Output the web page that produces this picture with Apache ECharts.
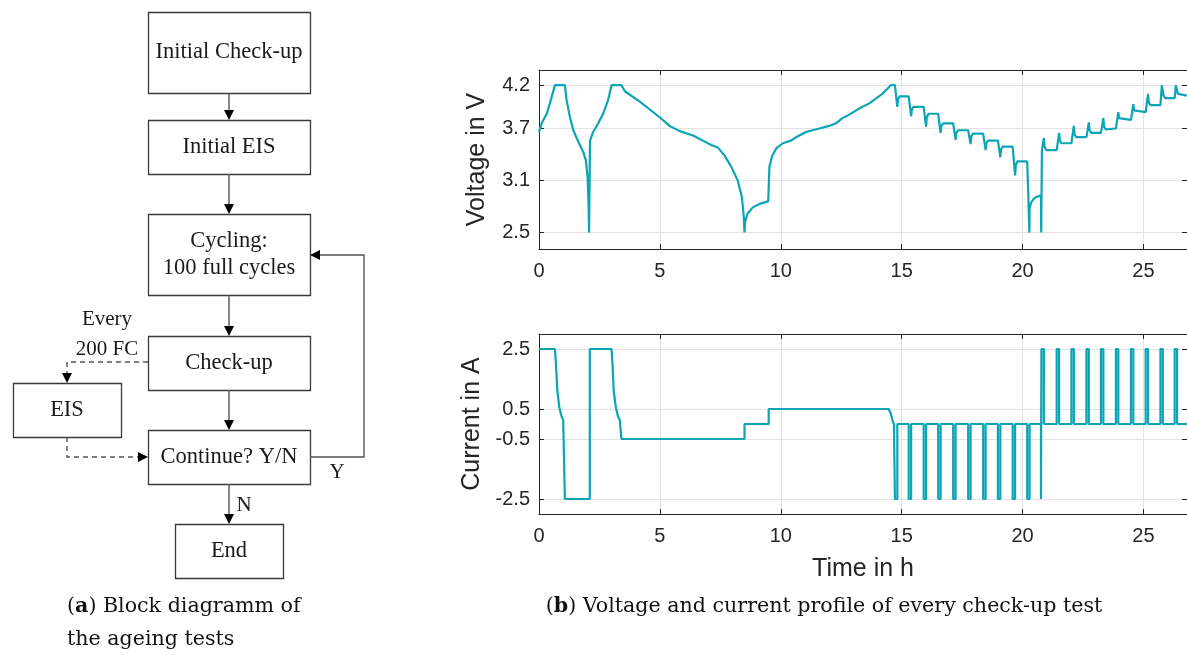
<!DOCTYPE html>
<html>
<head>
<meta charset="utf-8">
<script src="https://cdn.jsdelivr.net/npm/echarts@6/dist/echarts.min.js"></script>
<style>
html,body{margin:0;padding:0;background:#fff;overflow:hidden;}
#chart{width:1187px;height:655px;}
</style>
</head>
<body>
<div id="chart"></div>
<script>
// ---------------- data ----------------
const timeTicks = [0, 5, 10, 15, 20, 25];
const voltTicks = [2.5, 3.1, 3.7, 4.2];
const currTicks = [-2.5, -0.5, 0.5, 2.5];

const voltTime = [
  0, 0.11, 0.32, 0.45, 0.66, 1.07, 1.14, 1.28, 1.42, 1.62, 1.83, 1.94, 2.01, 2.05, 2.07, 2.10,
  2.11, 2.24, 2.45, 2.65, 2.86, 3.00, 3.41, 3.55, 4.17, 4.99, 5.40, 5.82, 6.37, 6.78, 7.12, 7.40,
  7.67, 7.95, 8.22, 8.39, 8.47, 8.50, 8.52, 8.63, 8.84, 9.12, 9.48, 9.53, 9.64, 9.81, 10.08, 10.42,
  10.63, 11.04, 11.59, 12.00, 12.28, 12.55, 12.83, 13.24, 13.66, 14.20, 14.55, 14.72,
  14.82, 14.85, 14.92, 15.29,
  15.39, 15.42, 15.49, 15.91,
  16.01, 16.04, 16.11, 16.51,
  16.61, 16.64, 16.71, 17.13,
  17.23, 17.26, 17.33, 17.75,
  17.85, 17.88, 17.95, 18.37,
  18.47, 18.50, 18.57, 18.98,
  19.08, 19.11, 19.18, 19.59,
  19.69, 19.72, 19.79, 20.19,
  20.23, 20.28, 20.29, 20.36, 20.50, 20.76, 20.77, 20.78, 20.80, 20.88, 20.91, 20.98, 21.41,
  21.51, 21.54, 21.61, 22.02,
  22.12, 22.15, 22.22, 22.64,
  22.74, 22.77, 22.84, 23.24,
  23.34, 23.37, 23.44, 23.86,
  23.96, 23.99, 24.06, 24.48,
  24.58, 24.61, 24.68, 25.09,
  25.19, 25.22, 25.29, 25.70,
  25.76, 25.80, 25.83, 25.90, 26.29,
  26.34, 26.39, 26.42, 26.49, 26.80
];
const voltValue = [
  3.66, 3.76, 3.87, 3.99, 4.20, 4.20, 4.03, 3.83, 3.68, 3.55, 3.43, 3.33, 3.14, 2.83, 2.50, 2.50,
  3.56, 3.66, 3.76, 3.87, 4.03, 4.20, 4.20, 4.13, 4.01, 3.83, 3.73, 3.67, 3.62, 3.56, 3.51, 3.48,
  3.39, 3.26, 3.10, 2.91, 2.68, 2.50, 2.62, 2.72, 2.79, 2.83, 2.86, 3.26, 3.38, 3.47, 3.53, 3.56,
  3.60, 3.66, 3.70, 3.73, 3.76, 3.82, 3.86, 3.93, 3.99, 4.10, 4.20, 4.20,
  3.95, 4.04, 4.07, 4.07,
  3.84, 3.92, 3.95, 3.95,
  3.72, 3.83, 3.87, 3.87,
  3.65, 3.73, 3.76, 3.76,
  3.57, 3.65, 3.68, 3.68,
  3.52, 3.61, 3.64, 3.64,
  3.45, 3.53, 3.56, 3.56,
  3.37, 3.46, 3.49, 3.49,
  3.16, 3.28, 3.32, 3.32,
  3.00, 2.50, 2.78, 2.85, 2.90, 2.93, 2.50, 2.50, 3.45, 3.59, 3.49, 3.45, 3.45,
  3.65, 3.56, 3.53, 3.53,
  3.73, 3.63, 3.60, 3.60,
  3.77, 3.68, 3.65, 3.65,
  3.82, 3.72, 3.69, 3.70,
  3.89, 3.82, 3.80, 3.80,
  3.98, 3.91, 3.89, 3.89,
  4.10, 4.00, 3.97, 3.97,
  4.20, 4.20, 4.08, 4.05, 4.05,
  4.20, 4.20, 4.10, 4.08, 4.08
];

const currTime = [
  0, 0.66, 0.70, 0.76, 0.84, 0.94, 1.00, 1.07, 1.07, 2.10, 2.10, 3.00, 3.04, 3.09, 3.18, 3.27, 3.34, 3.41, 3.41,
  8.50, 8.50, 9.50, 9.50, 14.46, 14.55, 14.62, 14.68,
  14.72, 14.72, 14.82, 14.82,
  15.29, 15.29, 15.39, 15.39,
  15.91, 15.91, 16.01, 16.01,
  16.51, 16.51, 16.61, 16.61,
  17.13, 17.13, 17.23, 17.23,
  17.75, 17.75, 17.85, 17.85,
  18.37, 18.37, 18.47, 18.47,
  18.98, 18.98, 19.08, 19.08,
  19.59, 19.59, 19.69, 19.69,
  20.19, 20.19, 20.29, 20.29,
  20.76, 20.76, 20.78, 20.78, 20.88, 20.88,
  21.41, 21.41, 21.51, 21.51,
  22.02, 22.02, 22.12, 22.12,
  22.64, 22.64, 22.74, 22.74,
  23.24, 23.24, 23.34, 23.34,
  23.86, 23.86, 23.96, 23.96,
  24.48, 24.48, 24.58, 24.58,
  25.09, 25.09, 25.19, 25.19,
  25.70, 25.70, 25.80, 25.80,
  26.29, 26.29, 26.39, 26.39,
  26.80
];
const currValue = [
  2.5, 2.5, 2.0, 1.1, 0.55, 0.24, 0.13, 0.10, -2.5, -2.5, 2.5, 2.5, 2.0, 1.1, 0.55, 0.24, 0.13, 0.10, -0.5,
  -0.5, 0, 0, 0.5, 0.5, 0.35, 0.12, 0,
  0, -2.5, -2.5, 0,
  0, -2.5, -2.5, 0,
  0, -2.5, -2.5, 0,
  0, -2.5, -2.5, 0,
  0, -2.5, -2.5, 0,
  0, -2.5, -2.5, 0,
  0, -2.5, -2.5, 0,
  0, -2.5, -2.5, 0,
  0, -2.5, -2.5, 0,
  0, -2.5, -2.5, 0,
  0, -2.5, -2.5, 2.5, 2.5, 0,
  0, 2.5, 2.5, 0,
  0, 2.5, 2.5, 0,
  0, 2.5, 2.5, 0,
  0, 2.5, 2.5, 0,
  0, 2.5, 2.5, 0,
  0, 2.5, 2.5, 0,
  0, 2.5, 2.5, 0,
  0, 2.5, 2.5, 0,
  0, 2.5, 2.5, 0,
  0
];

const flowLabels = ['Initial Check-up', 'Initial EIS', 'Cycling:\n100 full cycles', 'Check-up', 'Continue? Y/N', 'EIS', 'End'];
const flowNotes = ['Every', '200 FC', 'Y', 'N'];
const captionA = ['(a) Block diagramm of', 'the ageing tests'];
const captionB = '(b) Voltage and current profile of every check-up test';

// ---------------- styles / layout ----------------
const LINE = '#0ba5b5';
const AX = '#262626';
const GRIDC = '#e3e3e3';
const SANS = '"Liberation Sans", Arial, Helvetica, sans-serif';
const SERIF = '"Liberation Serif", "Times New Roman", serif';
const CAPSERIF = '"DejaVu Serif", "Liberation Serif", serif';

const zip = (a, b) => a.map((v, i) => [v, b[i]]);

function xAx(gridIndex, pos, showLabel, name) {
  return {
    type: 'value', gridIndex, position: pos, min: 0, max: 26.8,
    axisLine: { show: true, onZero: false, lineStyle: { color: AX, width: 1 } },
    axisTick: { show: true, inside: true, length: 5, customValues: timeTicks, lineStyle: { color: AX } },
    axisLabel: { show: showLabel, customValues: timeTicks, color: AX, fontFamily: SANS, fontSize: 20, margin: 12 },
    splitLine: { show: pos === 'bottom', lineStyle: { color: GRIDC, width: 1 } },
    name: name || '', nameLocation: 'middle', nameGap: 43,
    nameTextStyle: { color: AX, fontFamily: SANS, fontSize: 25 }
  };
}
function yAx(gridIndex, pos, showLabel, mn, mx, ticks, name) {
  return {
    type: 'value', gridIndex, position: pos, min: mn, max: mx,
    axisLine: { show: true, onZero: false, lineStyle: { color: AX, width: 1 } },
    axisTick: { show: true, inside: true, length: 5, customValues: ticks, lineStyle: { color: AX } },
    axisLabel: { show: showLabel, customValues: ticks, color: AX, fontFamily: SANS, fontSize: 20, margin: 9 },
    splitLine: { show: pos === 'left', lineStyle: { color: GRIDC, width: 1 } },
    name: name || '', nameLocation: 'middle', nameGap: 49, nameRotate: 90,
    nameTextStyle: { color: AX, fontFamily: SANS, fontSize: 25 }
  };
}

// flowchart graphic
const g = [];
const BOX = '#3a3a3a', ARR = '#555';
const boxGeo = [
  [148, 12, 162, 81], [148, 120, 162, 54], [148, 214, 162, 81], [148, 336, 162, 54],
  [148, 430, 162, 54], [13, 383, 108, 54], [175, 524, 108, 54]
];
boxGeo.forEach((b, i) => {
  g.push({ type: 'rect', shape: { x: b[0] + 0.5, y: b[1] + 0.5, width: b[2], height: b[3] },
    style: { fill: '#fff', stroke: BOX, lineWidth: 1.3 } });
  const lines = flowLabels[i].split('\n');
  const cy = b[1] + b[3] / 2;
  lines.forEach((t, k) => {
    g.push({ type: 'text', x: b[0] + b[2] / 2, y: cy + (k - (lines.length - 1) / 2) * 27,
      style: { text: t, fill: '#1a1a1a', font: '22.5px ' + SERIF, textAlign: 'center', textVerticalAlign: 'middle' } });
  });
});
function arrowHead(tx, ty, dir) {
  const L = 10, W = 5;
  let pts;
  if (dir === 'down') pts = [[tx, ty], [tx - W, ty - L], [tx + W, ty - L]];
  if (dir === 'left') pts = [[tx, ty], [tx + L, ty - W], [tx + L, ty + W]];
  if (dir === 'right') pts = [[tx, ty], [tx - L, ty - W], [tx - L, ty + W]];
  g.push({ type: 'polygon', shape: { points: pts }, style: { fill: '#000' } });
}
function pl(points, dashed) {
  g.push({ type: 'polyline', shape: { points }, style: { stroke: ARR, lineWidth: 1.4, fill: null, lineDash: dashed ? [5, 4] : null } });
}
[[93, 120], [174, 214], [295, 336], [390, 430], [484, 524]].forEach(s => {
  pl([[229, s[0]], [229, s[1] - 9]]);
  arrowHead(229, s[1], 'down');
});
pl([[310, 457], [364, 457], [364, 255], [319, 255]]);
arrowHead(310, 255, 'left');
pl([[148, 362], [67, 362], [67, 374]], true);
arrowHead(67, 383, 'down');
pl([[67, 437], [67, 457], [139, 457]], true);
arrowHead(148, 457, 'right');
[[107, 319], [107, 349], [337, 472], [244, 505]].forEach((p, i) => {
  g.push({ type: 'text', x: p[0], y: p[1],
    style: { text: flowNotes[i], fill: '#1a1a1a', font: '21px ' + SERIF, textAlign: 'center', textVerticalAlign: 'middle' } });
});
// captions
const capRich = { b: { fontWeight: 'bold', fontSize: 20.6, fontFamily: CAPSERIF } };
g.push({ type: 'text', x: 67, y: 607, style: {
  text: '({b|a})' + captionA[0].slice(3), fill: '#111', font: '20.6px ' + CAPSERIF,
  textVerticalAlign: 'middle', rich: capRich } });
g.push({ type: 'text', x: 67, y: 640, style: {
  text: captionA[1], fill: '#111', font: '20.6px ' + CAPSERIF, textVerticalAlign: 'middle' } });
g.push({ type: 'text', x: 824, y: 607, style: {
  text: '({b|b})' + captionB.slice(3), fill: '#111', font: '20.6px ' + CAPSERIF, textAlign: 'center',
  textVerticalAlign: 'middle', rich: capRich } });

const chart = echarts.init(document.getElementById('chart'), null, { renderer: 'canvas' });
chart.setOption({
  animation: false,
  backgroundColor: '#fff',
  grid: [
    { left: 539, top: 70, width: 650, height: 179 },
    { left: 539, top: 334, width: 650, height: 180 }
  ],
  xAxis: [
    xAx(0, 'bottom', true), xAx(0, 'top', false),
    xAx(1, 'bottom', true, 'Time in h'), xAx(1, 'top', false)
  ],
  yAxis: [
    yAx(0, 'left', true, 2.31, 4.375, voltTicks, 'Voltage in V'),
    yAx(0, 'right', false, 2.31, 4.375, voltTicks),
    yAx(1, 'left', true, -3, 3, currTicks, 'Current in A'),
    yAx(1, 'right', false, -3, 3, currTicks)
  ],
  series: [
    { type: 'line', xAxisIndex: 0, yAxisIndex: 0, data: zip(voltTime, voltValue), showSymbol: false,
      lineStyle: { color: LINE, width: 2.2 }, clip: true },
    { type: 'line', xAxisIndex: 2, yAxisIndex: 2, data: zip(currTime, currValue), showSymbol: false,
      lineStyle: { color: LINE, width: 2.2 }, clip: true }
  ],
  graphic: g
});
</script>
</body>
</html>
